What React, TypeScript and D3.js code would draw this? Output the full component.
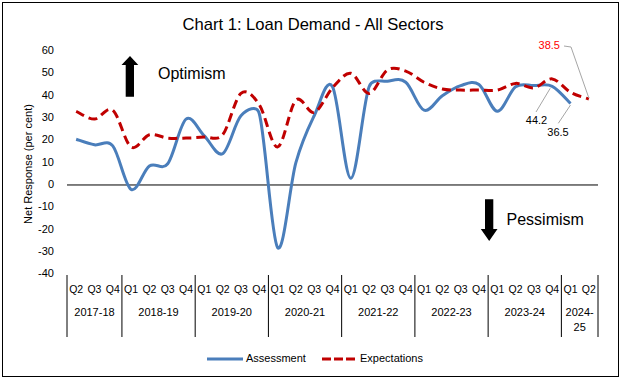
import React from "react";
import * as d3 from "d3";

const years = ["2017-18", "2018-19", "2019-20", "2020-21", "2021-22", "2022-23", "2023-24", "2024-25"];
const quartersPerYear = [
  ["Q2", "Q3", "Q4"],
  ["Q1", "Q2", "Q3", "Q4"],
  ["Q1", "Q2", "Q3", "Q4"],
  ["Q1", "Q2", "Q3", "Q4"],
  ["Q1", "Q2", "Q3", "Q4"],
  ["Q1", "Q2", "Q3", "Q4"],
  ["Q1", "Q2", "Q3", "Q4"],
  ["Q1", "Q2"],
];

const assessment = [
  20.5, 18, 17.5,
  -2, 8.5, 9.5, 29.5,
  22, 14, 31, 32,
  -28, 10, 31, 44,
  3, 44, 46.5, 46,
  33.5, 40, 44.5, 45,
  33, 44, 44.5, 44.2,
  36.5,
];

const expectations = [
  33, 29.5, 33.5,
  17, 22.5, 21, 21,
  21.5, 22.5, 41, 36,
  17, 38, 32.5, 43.5,
  50, 41, 51.5, 51,
  46, 43, 42.5, 42.5,
  42.5, 45.5, 43.5, 47.5,
  41.5, 38.5,
];

const yTicks = [60, 50, 40, 30, 20, 10, 0, -10, -20, -30, -40];

const FONT = "'Liberation Sans', Arial, sans-serif";

// Excel-like smoothed line: Catmull-Rom tangents, limited so control arms never exceed half the segment.
function smoothPath(pts: [number, number][]): string {
  const p = d3.path();
  if (!pts.length) return "";
  p.moveTo(pts[0][0], pts[0][1]);
  const clamp = (vx: number, vy: number, seg: number) => {
    const len = Math.hypot(vx, vy);
    const lim = 0.5 * seg;
    const s = len > lim && len > 0 ? lim / len : 1;
    return [vx * s, vy * s];
  };
  for (let i = 0; i < pts.length - 1; i++) {
    const P0 = pts[i - 1] || pts[i];
    const P1 = pts[i];
    const P2 = pts[i + 1];
    const P3 = pts[i + 2] || pts[i + 1];
    const seg = Math.hypot(P2[0] - P1[0], P2[1] - P1[1]);
    const [ax, ay] = clamp((P2[0] - P0[0]) / 6, (P2[1] - P0[1]) / 6, seg);
    const [bx, by] = clamp((P3[0] - P1[0]) / 6, (P3[1] - P1[1]) / 6, seg);
    p.bezierCurveTo(P1[0] + ax, P1[1] + ay, P2[0] - bx, P2[1] - by, P2[0], P2[1]);
  }
  return p.toString();
}

export default function App() {
  const W = 624, H = 381;
  const cats: { q: string; yi: number }[] = [];
  quartersPerYear.forEach((qs, yi) => qs.forEach((q) => cats.push({ q, yi })));
  const n = cats.length;

  const x = d3.scaleBand<number>().domain(d3.range(n)).range([67, 598]).paddingInner(0).paddingOuter(0);
  const bw = x.bandwidth();
  const cx = (i: number) => (x(i) as number) + bw / 2;
  const y = d3.scaleLinear().domain([-40, 60]).range([274.3, 51]);

  const toPts = (arr: number[]) => arr.map((v, i) => [cx(i), y(v)] as [number, number]);

  const bounds: number[] = [0];
  let acc = 0;
  quartersPerYear.forEach((qs) => {
    acc += qs.length;
    bounds.push(acc);
  });
  const bx = (k: number) => (k < n ? (x(k) as number) : 598);

  const lastA = assessment.length - 1;
  const lastE = expectations.length - 1;

  return (
    <svg width={W} height={H} style={{ position: "fixed", left: 0, top: 0, background: "#fff" }} fontFamily={FONT}>
      <rect x={0} y={0} width={W} height={H} fill="#fff" />
      <rect x={2.5} y={2.5} width={616} height={374} fill="none" stroke="#000" strokeWidth={1} />
      <text x={313} y={30} textAnchor="middle" fontSize={16.6} fill="#000">
        Chart 1: Loan Demand - All Sectors
      </text>

      {yTicks.map((t) => (
        <text key={t} x={54} y={y(t)} textAnchor="end" dominantBaseline="middle" fontSize={11} fill="#000">
          {t}
        </text>
      ))}
      <text
        transform={`translate(29,164) rotate(-90)`}
        textAnchor="middle"
        dominantBaseline="middle"
        fontSize={11}
        fill="#000"
      >
        Net Response (per cent)
      </text>

      <line x1={67} x2={598} y1={y(0)} y2={y(0)} stroke="#000" strokeWidth={1} />

      {bounds.map((k, i) => (
        <line key={i} x1={bx(k)} x2={bx(k)} y1={275} y2={337} stroke="#000" strokeWidth={1} />
      ))}
      {cats.map((c, i) => (
        <text key={i} x={cx(i)} y={290} textAnchor="middle" dominantBaseline="middle" fontSize={10.5} fill="#000">
          {c.q}
        </text>
      ))}
      {years.map((yr, i) => {
        const mid = (bx(bounds[i]) + bx(bounds[i + 1])) / 2;
        const narrow = quartersPerYear[i].length < 3;
        if (narrow) {
          const parts = yr.split("-");
          return (
            <g key={yr}>
              <text x={mid} y={313} textAnchor="middle" dominantBaseline="middle" fontSize={11} fill="#000">
                {parts[0] + "-"}
              </text>
              <text x={mid} y={328} textAnchor="middle" dominantBaseline="middle" fontSize={11} fill="#000">
                {parts[1]}
              </text>
            </g>
          );
        }
        return (
          <text key={yr} x={mid} y={313} textAnchor="middle" dominantBaseline="middle" fontSize={11} fill="#000">
            {yr}
          </text>
        );
      })}

      <path d={smoothPath(toPts(assessment))} fill="none" stroke="#4a7ebb" strokeWidth={3} strokeLinejoin="round" />
      <path
        d={smoothPath(toPts(expectations))}
        fill="none"
        stroke="#c00000"
        strokeWidth={3}
        strokeDasharray="9,5"
        strokeLinejoin="round"
      />

      <polygon points="130,56 138.3,65 134,65 134,96.7 125.7,96.7 125.7,65 121.5,65" fill="#000" />
      <text x={158} y={74.5} dominantBaseline="middle" fontSize={16} fill="#000">
        Optimism
      </text>
      <polygon points="485,199.3 493.3,199.3 493.3,229 497.5,229 489.2,241 480.8,229 485,229" fill="#000" />
      <text x={506.5} y={220.5} dominantBaseline="middle" fontSize={16} fill="#000">
        Pessimism
      </text>

      <polyline
        points={`564,46 571,47 ${cx(lastE)},${y(expectations[lastE]) - 1}`}
        fill="none"
        stroke="#a6a6a6"
        strokeWidth={1}
      />
      <text x={560} y={46} textAnchor="end" dominantBaseline="middle" fontSize={11} fill="#ff0000">
        {expectations[lastE]}
      </text>
      <line x1={536} y1={112} x2={cx(lastA - 1) - 2} y2={y(assessment[lastA - 1]) + 2} stroke="#a6a6a6" strokeWidth={1} />
      <text x={536.5} y={121} textAnchor="middle" dominantBaseline="middle" fontSize={11} fill="#000">
        {assessment[lastA - 1]}
      </text>
      <line x1={558.3} y1={123.3} x2={cx(lastA)} y2={y(assessment[lastA]) + 1.5} stroke="#a6a6a6" strokeWidth={1} />
      <text x={558} y={133} textAnchor="middle" dominantBaseline="middle" fontSize={11} fill="#000">
        {assessment[lastA]}
      </text>

      <line x1={207} x2={243} y1={359} y2={359} stroke="#4a7ebb" strokeWidth={3} />
      <text x={246} y={359} dominantBaseline="middle" fontSize={11} fill="#000">
        Assessment
      </text>
      <line x1={322} x2={355} y1={359} y2={359} stroke="#c00000" strokeWidth={3} strokeDasharray="9,3" />
      <text x={360} y={359} dominantBaseline="middle" fontSize={11} fill="#000">
        Expectations
      </text>
    </svg>
  );
}
